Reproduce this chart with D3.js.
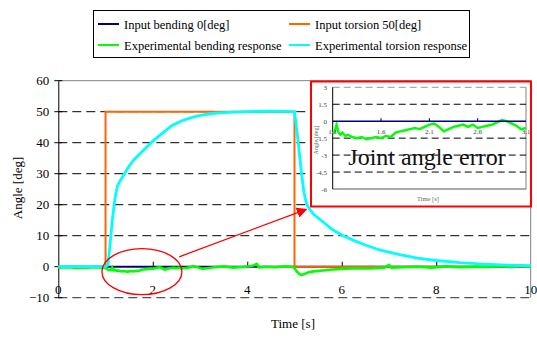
<!DOCTYPE html>
<html><head><meta charset="utf-8">
<script src="https://cdn.jsdelivr.net/npm/d3@7"></script>
<style>body{margin:0;background:#fff}svg{display:block}svg text{font-family:"Liberation Serif",Tinos,"Nimbus Roman","Times New Roman",Times,"DejaVu Serif",serif !important}</style>
</head><body>
<svg id="c" width="537" height="338"></svg>
<script>
// ---- data ----
const xTicks = [0,2,4,6,8,10];
const yTicks = [-10,0,10,20,30,40,50,60];
const insetXTicks = [1.1,1.6,2.1,2.6,3.1];
const insetYTicks = [3,1.5,0,-1.5,-3,-4.5,-6];
const inputBending = [[0,0],[10,0]];
const inputTorsion = [[0,0],[1,0],[1,50],[5,50],[5,0],[10,0]];
const torsionResponse = [[0,0],[1.0,0],[1.05,0.5],[1.1,8],[1.15,16],[1.2,22],[1.25,26],[1.3,27.5],[1.4,30],[1.5,32.5],[1.6,34.5],[1.8,37.5],[2.0,40.5],[2.2,43],[2.4,45.5],[2.6,47],[2.8,48],[3.0,48.8],[3.3,49.5],[3.6,49.8],[4.0,50],[4.5,50.2],[4.8,50.1],[5.0,50],[5.05,44],[5.1,37],[5.15,30],[5.2,24],[5.25,20.5],[5.3,19],[5.4,17],[5.6,14.5],[5.8,12],[6.0,10.2],[6.25,8.5],[6.5,7],[6.8,5.4],[7.2,4],[7.6,2.8],[8.0,2],[8.5,1.3],[9.0,0.8],[9.5,0.5],[10,0.3]];
const bendingResponse = [[0,-0.3],[0.2,-0.2],[0.4,-0.4],[0.6,-0.3],[0.8,-0.2],[0.95,-0.3],[1.0,-0.5],[1.05,-1.0],[1.1,-1.1],[1.12,-0.9],[1.14,-0.3],[1.16,-1.0],[1.18,-1.2],[1.2,-1.0],[1.23,-1.3],[1.26,-1.2],[1.3,-1.4],[1.35,-1.5],[1.4,-1.4],[1.45,-1.6],[1.5,-1.5],[1.55,-1.4],[1.6,-1.5],[1.65,-1.3],[1.7,-1.4],[1.75,-1.0],[1.8,-0.9],[1.85,-0.8],[1.9,-0.7],[1.95,-0.6],[2.0,-0.7],[2.05,-0.5],[2.1,-0.3],[2.15,-0.2],[2.2,-0.5],[2.25,-0.9],[2.3,-0.7],[2.35,-0.5],[2.4,-0.4],[2.45,-0.3],[2.5,-0.5],[2.55,-0.3],[2.6,-0.6],[2.65,-0.5],[2.7,-0.4],[2.75,-0.3],[2.8,-0.1],[2.85,0.1],[2.9,0.0],[2.95,-0.2],[3.0,-0.4],[3.05,-0.7],[3.1,-0.6],[3.3,-0.2],[3.5,0.1],[3.7,-0.3],[3.9,-0.1],[4.1,0.2],[4.2,0.9],[4.25,-0.2],[4.4,0.0],[4.6,-0.2],[4.8,0.1],[4.95,0.0],[5.0,-0.5],[5.05,-1.5],[5.1,-2.3],[5.15,-2.7],[5.2,-2.4],[5.3,-1.8],[5.4,-1.5],[5.6,-1.2],[5.8,-0.9],[6.0,-0.7],[6.3,-0.5],[6.6,-0.6],[6.9,-0.3],[7.0,0.6],[7.05,-0.3],[7.3,-0.2],[7.6,0.0],[7.9,-0.3],[8.2,0.1],[8.5,-0.2],[8.8,0.0],[9.1,-0.1],[9.4,0.2],[9.6,-0.1],[9.8,0.3],[10,0.0]];
const legendItems = [
  {label:"Input bending 0[deg]", color:"#000080"},
  {label:"Input torsion 50[deg]", color:"#FF6600"},
  {label:"Experimental bending response", color:"#00FF00"},
  {label:"Experimental torsion response", color:"#00FFFF"}
];

// ---- main chart ----
const svg = d3.select("#c");
const x = d3.scaleLinear().domain([0,10]).range([58.3,530.7]);
const y = d3.scaleLinear().domain([-10,60]).range([297.7,80.7]);
const line = d3.line().x(d=>x(d[0])).y(d=>y(d[1]));

svg.append("line").attr("x1",x(0)).attr("x2",x(10)).attr("y1",y(60)).attr("y2",y(60)).attr("stroke","#808080");
svg.append("line").attr("x1",x(10)).attr("x2",x(10)).attr("y1",y(60)).attr("y2",y(-10)).attr("stroke","#808080");
svg.append("g").selectAll("line").data([10,20,30,40,50]).join("line")
  .attr("x1",x(0)).attr("x2",x(10)).attr("y1",d=>y(d)).attr("y2",d=>y(d))
  .attr("stroke","#000").attr("stroke-dasharray","9,5");
svg.append("line").attr("x1",x(0)).attr("x2",x(10)).attr("y1",y(-10)).attr("y2",y(-10))
  .attr("stroke","#555").attr("stroke-dasharray","9,5").attr("stroke-width",1.2);

const yAxis = d3.axisLeft(y).tickValues(yTicks).tickSize(0).tickPadding(9);
const ga = svg.append("g").attr("transform",`translate(${x(0)},0)`).call(yAxis);
ga.attr("font-family",null);
ga.select(".domain").attr("stroke","#000");
ga.selectAll("text").attr("font-size",13).attr("fill","#000");
svg.append("g").selectAll("line").data(yTicks).join("line")
  .attr("x1",x(0)-4).attr("x2",x(0)+4).attr("y1",d=>y(d)).attr("y2",d=>y(d)).attr("stroke","#000");

const xAxis = d3.axisTop(x).tickValues(xTicks.slice(1,-1)).tickSize(5).tickFormat("");
svg.append("g").attr("transform",`translate(0,${y(0)})`).call(xAxis).select(".domain").remove();
svg.append("g").selectAll("text").data(xTicks).join("text")
  .attr("x",d=>x(d)).attr("y",294).attr("text-anchor","middle").attr("font-size",13).text(d=>d);

svg.append("path").datum(inputBending).attr("d",line).attr("fill","none").attr("stroke","#000080").attr("stroke-width",2);
svg.append("path").datum(inputTorsion).attr("d",line).attr("fill","none").attr("stroke","#FF6600").attr("stroke-width",2);
svg.append("path").datum(bendingResponse).attr("d",line).attr("fill","none").attr("stroke","#00FF00").attr("stroke-width",2.6);
svg.append("path").datum(torsionResponse).attr("d",line).attr("fill","none").attr("stroke","#00FFFF").attr("stroke-width",2.8);

svg.append("text").attr("x",293).attr("y",328).attr("text-anchor","middle").attr("font-size",13).text("Time [s]");
svg.append("text").attr("transform","translate(22,188) rotate(-90)").attr("text-anchor","middle").attr("font-size",13).text("Angle [deg]");

const lg = svg.append("g");
lg.append("rect").attr("x",93.5).attr("y",10.5).attr("width",376).attr("height",47).attr("fill","#fff").attr("stroke","#000");
legendItems.forEach((it,i)=>{
  const cx = i%2===0 ? 98 : 289, cy = i<2 ? 24 : 45;
  lg.append("line").attr("x1",cx).attr("x2",cx+21).attr("y1",cy).attr("y2",cy).attr("stroke",it.color).attr("stroke-width",2);
  lg.append("text").attr("x",cx+26).attr("y",cy+4.5).attr("font-size",12.5).text(it.label);
});

const defs = svg.append("defs");
defs.append("marker").attr("id","ah").attr("viewBox","0 0 10 10").attr("refX",9).attr("refY",5)
  .attr("markerWidth",8).attr("markerHeight",8).attr("orient","auto")
  .append("path").attr("d","M0,0L10,5L0,10z").attr("fill","#FF0000");
svg.append("ellipse").attr("cx",x(1.77)).attr("cy",y(-1.6)).attr("rx",40).attr("ry",23)
  .attr("fill","none").attr("stroke","#FF0000").attr("stroke-width",1.3);
svg.append("line").attr("x1",x(2.56)).attr("y1",y(3.2)).attr("x2",x(5.25)).attr("y2",y(18.5))
  .attr("stroke","#FF0000").attr("stroke-width",1.3).attr("marker-end","url(#ah)");

const ig = svg.append("g");
ig.append("rect").attr("x",311).attr("y",81.5).attr("width",220).attr("height",125).attr("fill","#fff").attr("stroke","#FF0000").attr("stroke-width",2);
const xi = d3.scaleLinear().domain([1.1,3.1]).range([332.7,526]);
const yi = d3.scaleLinear().domain([-6,3]).range([189,87.3]);
const li = d3.line().x(d=>xi(d[0])).y(d=>yi(d[1]));
ig.append("line").attr("x1",xi(1.1)).attr("x2",xi(3.1)).attr("y1",yi(3)).attr("y2",yi(3)).attr("stroke","#999").attr("stroke-dasharray","7,4");
ig.append("line").attr("x1",xi(3.1)).attr("x2",xi(3.1)).attr("y1",yi(3)).attr("y2",yi(-6)).attr("stroke","#808080");
ig.append("line").attr("x1",xi(1.1)).attr("x2",xi(3.1)).attr("y1",yi(-6)).attr("y2",yi(-6)).attr("stroke","#555");
ig.append("g").selectAll("line").data([1.5,-1.5,-3,-4.5]).join("line")
  .attr("x1",xi(1.1)).attr("x2",xi(3.1)).attr("y1",d=>yi(d)).attr("y2",d=>yi(d))
  .attr("stroke","#000").attr("stroke-dasharray","7,4");
ig.append("line").attr("x1",xi(1.1)).attr("x2",xi(1.1)).attr("y1",yi(3)).attr("y2",yi(-6)).attr("stroke","#000");
ig.append("g").selectAll("text").data(insetYTicks).join("text")
  .attr("x",327).attr("y",d=>yi(d)+2.5).attr("text-anchor","end").attr("font-size",7).attr("fill","#444").text(d=>d);
ig.append("g").selectAll("line").data(insetXTicks.slice(1,-1)).join("line")
  .attr("x1",d=>xi(d)).attr("x2",d=>xi(d)).attr("y1",yi(0)).attr("y2",yi(0)-3).attr("stroke","#000");
ig.append("path").datum(bendingResponse.filter(d=>d[0]>=1.1&&d[0]<=3.1)).attr("d",li).attr("fill","none").attr("stroke","#00FF00").attr("stroke-width",2.4);
ig.append("path").datum(inputBending).attr("d",d=>li([[1.1,0],[3.1,0]])).attr("fill","none").attr("stroke","#000080").attr("stroke-width",1.5);
ig.append("g").selectAll("text").data(insetXTicks).join("text")
  .attr("x",d=>xi(d)).attr("y",yi(0)+13).attr("text-anchor","middle").attr("font-size",7).attr("fill","#444").text(d=>d);
ig.append("text").attr("transform","translate(318,140) rotate(-90)").attr("text-anchor","middle").attr("font-size",6).attr("fill","#666").text("Angle [deg]");
ig.append("text").attr("x",428).attr("y",201).attr("text-anchor","middle").attr("font-size",6.5).attr("fill","#666").text("Time [s]");
ig.append("text").attr("x",427).attr("y",165).attr("text-anchor","middle").attr("font-size",24).attr("fill","#111").text("Joint angle error");
</script>
</body></html>
